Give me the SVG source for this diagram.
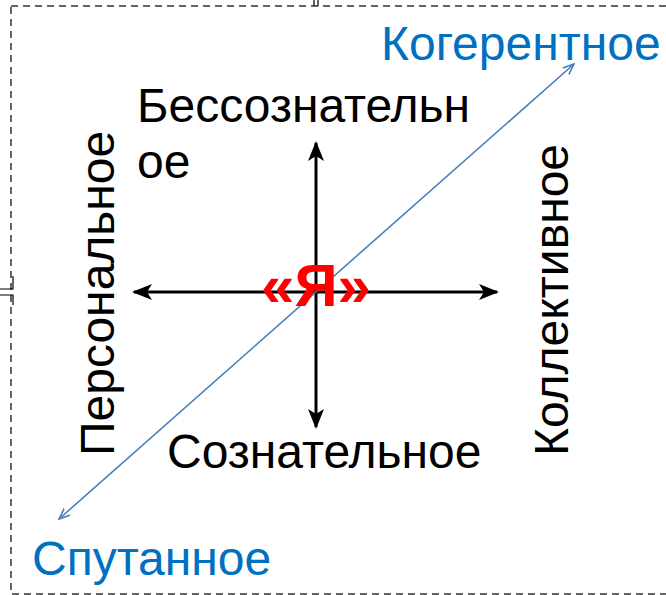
<svg xmlns="http://www.w3.org/2000/svg" width="666" height="595" viewBox="0 0 666 595">
<style>
.lbl{font-family:"Liberation Sans",Arial,sans-serif;font-size:48px;fill:#000}
.blue{font-family:"Liberation Sans",Arial,sans-serif;font-size:48px;fill:#0070c0}
.ax{stroke:#000;stroke-width:3;fill:none}
.diag{stroke:#4a7ebb;stroke-width:1.6;fill:none}
</style>
<defs>
<marker id="ab" viewBox="0 0 20 16" refX="18" refY="8" markerUnits="userSpaceOnUse" markerWidth="20" markerHeight="16" orient="auto-start-reverse">
<path d="M0,0 L20,8 L0,16 L5,8 Z" fill="#000"/>
</marker>
<marker id="bl" viewBox="0 0 12 10" refX="11" refY="5" markerUnits="userSpaceOnUse" markerWidth="12" markerHeight="10" orient="auto-start-reverse">
<path d="M0,0.5 L11,5 L0,9.5" fill="none" stroke="#4a7ebb" stroke-width="1.6"/>
</marker>
</defs>
<g id="frame">
<rect x="11" y="6" width="670" height="588" fill="none" stroke="#333" stroke-width="1.5" stroke-dasharray="7,5"/>
<path d="M0,289 H13 V276 M0,295 H13 V305" fill="none" stroke="#000" stroke-width="1.2"/>
<path d="M314,0 V6 M318,0 V6" fill="none" stroke="#000" stroke-width="1.2"/>
</g>
<g id="connectors">
<line class="ax" x1="316" y1="292" x2="316" y2="143" marker-end="url(#ab)"/>
<line class="ax" x1="316" y1="292" x2="316" y2="427" marker-end="url(#ab)"/>
<line class="ax" x1="316" y1="292" x2="134" y2="292" marker-end="url(#ab)"/>
<line class="ax" x1="316" y1="292" x2="497" y2="292" marker-end="url(#ab)"/>
<line class="diag" x1="59" y1="519" x2="574" y2="64" marker-start="url(#bl)" marker-end="url(#bl)"/>
</g>
<g id="top"><text class="lbl" x="137" y="122">Бессознательн</text><text class="lbl" x="137" y="178">ое</text></g>
<g id="bottom"><text class="lbl" x="167" y="468">Сознательное</text></g>
<g id="left"><text class="lbl" transform="translate(114,456) rotate(-90)">Персональное</text></g>
<g id="right"><text class="lbl" transform="translate(568,456) rotate(-90)">Коллективное</text></g>
<g id="coherent"><text class="blue" x="381" y="60">Когерентное</text></g>
<g id="confused"><text class="blue" x="32" y="575">Спутанное</text></g>
<g id="self"><text x="316" y="306" text-anchor="middle" font-family="'Liberation Sans',Arial,sans-serif" font-weight="bold" font-size="60" fill="#ff0000">«Я»</text></g>
</svg>
